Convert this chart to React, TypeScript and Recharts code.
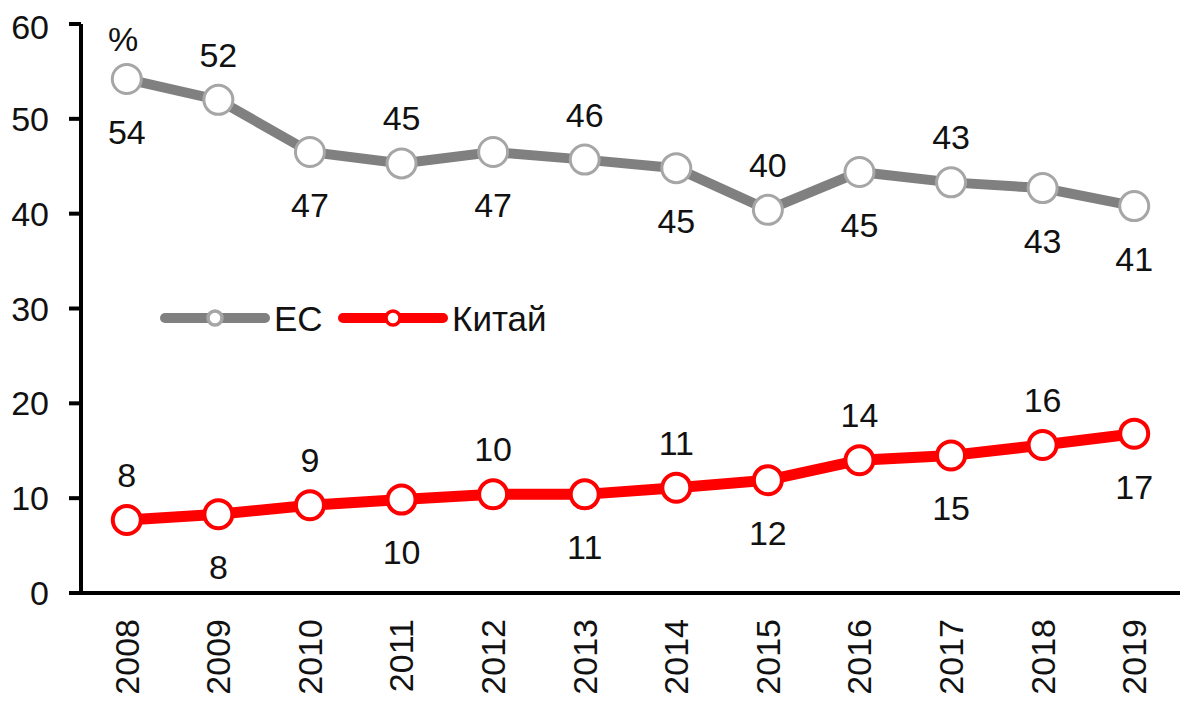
import React from 'react';
import { LineChart, Line, XAxis, YAxis, Legend, LabelList } from 'recharts';

const years = ['2008', '2009', '2010', '2011', '2012', '2013', '2014', '2015', '2016', '2017', '2018', '2019'];
const euValues = [54.2, 52.0, 46.5, 45.3, 46.5, 45.7, 44.8, 40.4, 44.4, 43.3, 42.7, 40.8];
const chinaValues = [7.7, 8.3, 9.25, 9.85, 10.4, 10.4, 11.1, 11.9, 14.0, 14.5, 15.6, 16.8];
const euLabels = [54, 52, 47, 45, 47, 46, 45, 40, 45, 43, 43, 41];
const chinaLabels = [8, 8, 9, 10, 10, 11, 11, 12, 14, 15, 16, 17];
const yTicks = [0, 10, 20, 30, 40, 50, 60];

const data = years.map((year, i) => ({
  year,
  eu: euValues[i],
  china: chinaValues[i],
  euLabel: euLabels[i],
  chinaLabel: chinaLabels[i],
}));

const FONT = "'Liberation Sans', Arial, sans-serif";
const TEXT = '#111';

// label placement relative to the point (layout, not data)
const euSide = ['b', 'a', 'b', 'a', 'b', 'a', 'b', 'a', 'b', 'a', 'b', 'b'];
const chinaSide = ['a', 'b', 'a', 'b', 'a', 'b', 'a', 'b', 'a', 'b', 'a', 'b'];

const makeLabel = (sides: string[]) => (props: any) => {
  const { x, y, index, value } = props;
  const dy = sides[index] === 'a' ? -45 : 53;
  return (
    <text
      x={x}
      y={y + dy}
      dy="0.35em"
      textAnchor="middle"
      fill={TEXT}
      fontSize={34}
      fontFamily={FONT}
    >
      {value}
    </text>
  );
};

const YearTick = (props: any) => {
  const { x, y, payload } = props;
  const ty = y + 26;
  return (
    <text
      x={x}
      y={ty}
      dy="0.35em"
      textAnchor="end"
      transform={`rotate(-90, ${x}, ${ty})`}
      fill={TEXT}
      fontSize={34}
      fontFamily={FONT}
    >
      {payload.value}
    </text>
  );
};

const series = [
  { key: 'eu', name: 'ЕС', line: '#808080', marker: '#a6a6a6' },
  { key: 'china', name: 'Китай', line: '#ff0000', marker: '#ff0000' },
];

const LegendContent = () => {
  const itemW = [178, 0];
  let x = 0;
  return (
    <svg width={420} height={40} style={{ overflow: 'visible' }}>
      {series.map((s, i) => {
        const x0 = x;
        x += itemW[i];
        return (
          <g key={s.key}>
            <line x1={x0 + 5} y1={20} x2={x0 + 105} y2={20} stroke={s.line} strokeWidth={10} strokeLinecap="round" />
            <circle cx={x0 + 55} cy={20} r={7} fill="#fff" stroke={s.marker} strokeWidth={3.5} />
            <text x={x0 + 114} y={20} dy="0.36em" fill={TEXT} fontSize={35} fontFamily={FONT}>
              {s.name}
            </text>
          </g>
        );
      })}
    </svg>
  );
};

export default function App() {
  return (
    <div style={{ position: 'relative', width: 1192, height: 699 }}>
      <LineChart
        width={1192}
        height={699}
        data={data}
        margin={{ top: 16, right: 20, bottom: 0, left: 0 }}
      >
        <XAxis
          dataKey="year"
          scale="band"
          interval={0}
          tickLine={false}
          tickSize={0}
          tickMargin={0}
          height={114}
          axisLine={{ stroke: '#000', strokeWidth: 4 }}
          tick={<YearTick />}
        />
        <YAxis
          domain={[0, 60]}
          ticks={yTicks}
          width={73}
          tickSize={12}
          tickMargin={20}
          axisLine={{ stroke: '#000', strokeWidth: 4 }}
          tickLine={{ stroke: '#000', strokeWidth: 4 }}
          tick={{ fill: TEXT, fontSize: 34, fontFamily: FONT }}
        />
        <Legend
          layout="horizontal"
          verticalAlign="middle"
          align="center"
          wrapperStyle={{ left: 152, top: 290, width: 420, height: 40 }}
          content={<LegendContent />}
        />
        <Line
          dataKey="eu"
          name="ЕС"
          stroke="#808080"
          strokeWidth={10}
          isAnimationActive={false}
          dot={{ r: 14.5, fill: '#fff', stroke: '#a6a6a6', strokeWidth: 3 }}
          activeDot={false}
        >
          <LabelList dataKey="euLabel" content={makeLabel(euSide)} />
        </Line>
        <Line
          dataKey="china"
          name="Китай"
          stroke="#ff0000"
          strokeWidth={11}
          isAnimationActive={false}
          dot={{ r: 14, fill: '#fff', stroke: '#ff0000', strokeWidth: 4 }}
          activeDot={false}
        >
          <LabelList dataKey="chinaLabel" content={makeLabel(chinaSide)} />
        </Line>
      </LineChart>
      <div
        style={{
          position: 'absolute',
          left: 100,
          top: 14,
          fontSize: 34,
          lineHeight: 1,
          fontFamily: FONT,
          color: TEXT,
        }}
      >
        %
      </div>
    </div>
  );
}
